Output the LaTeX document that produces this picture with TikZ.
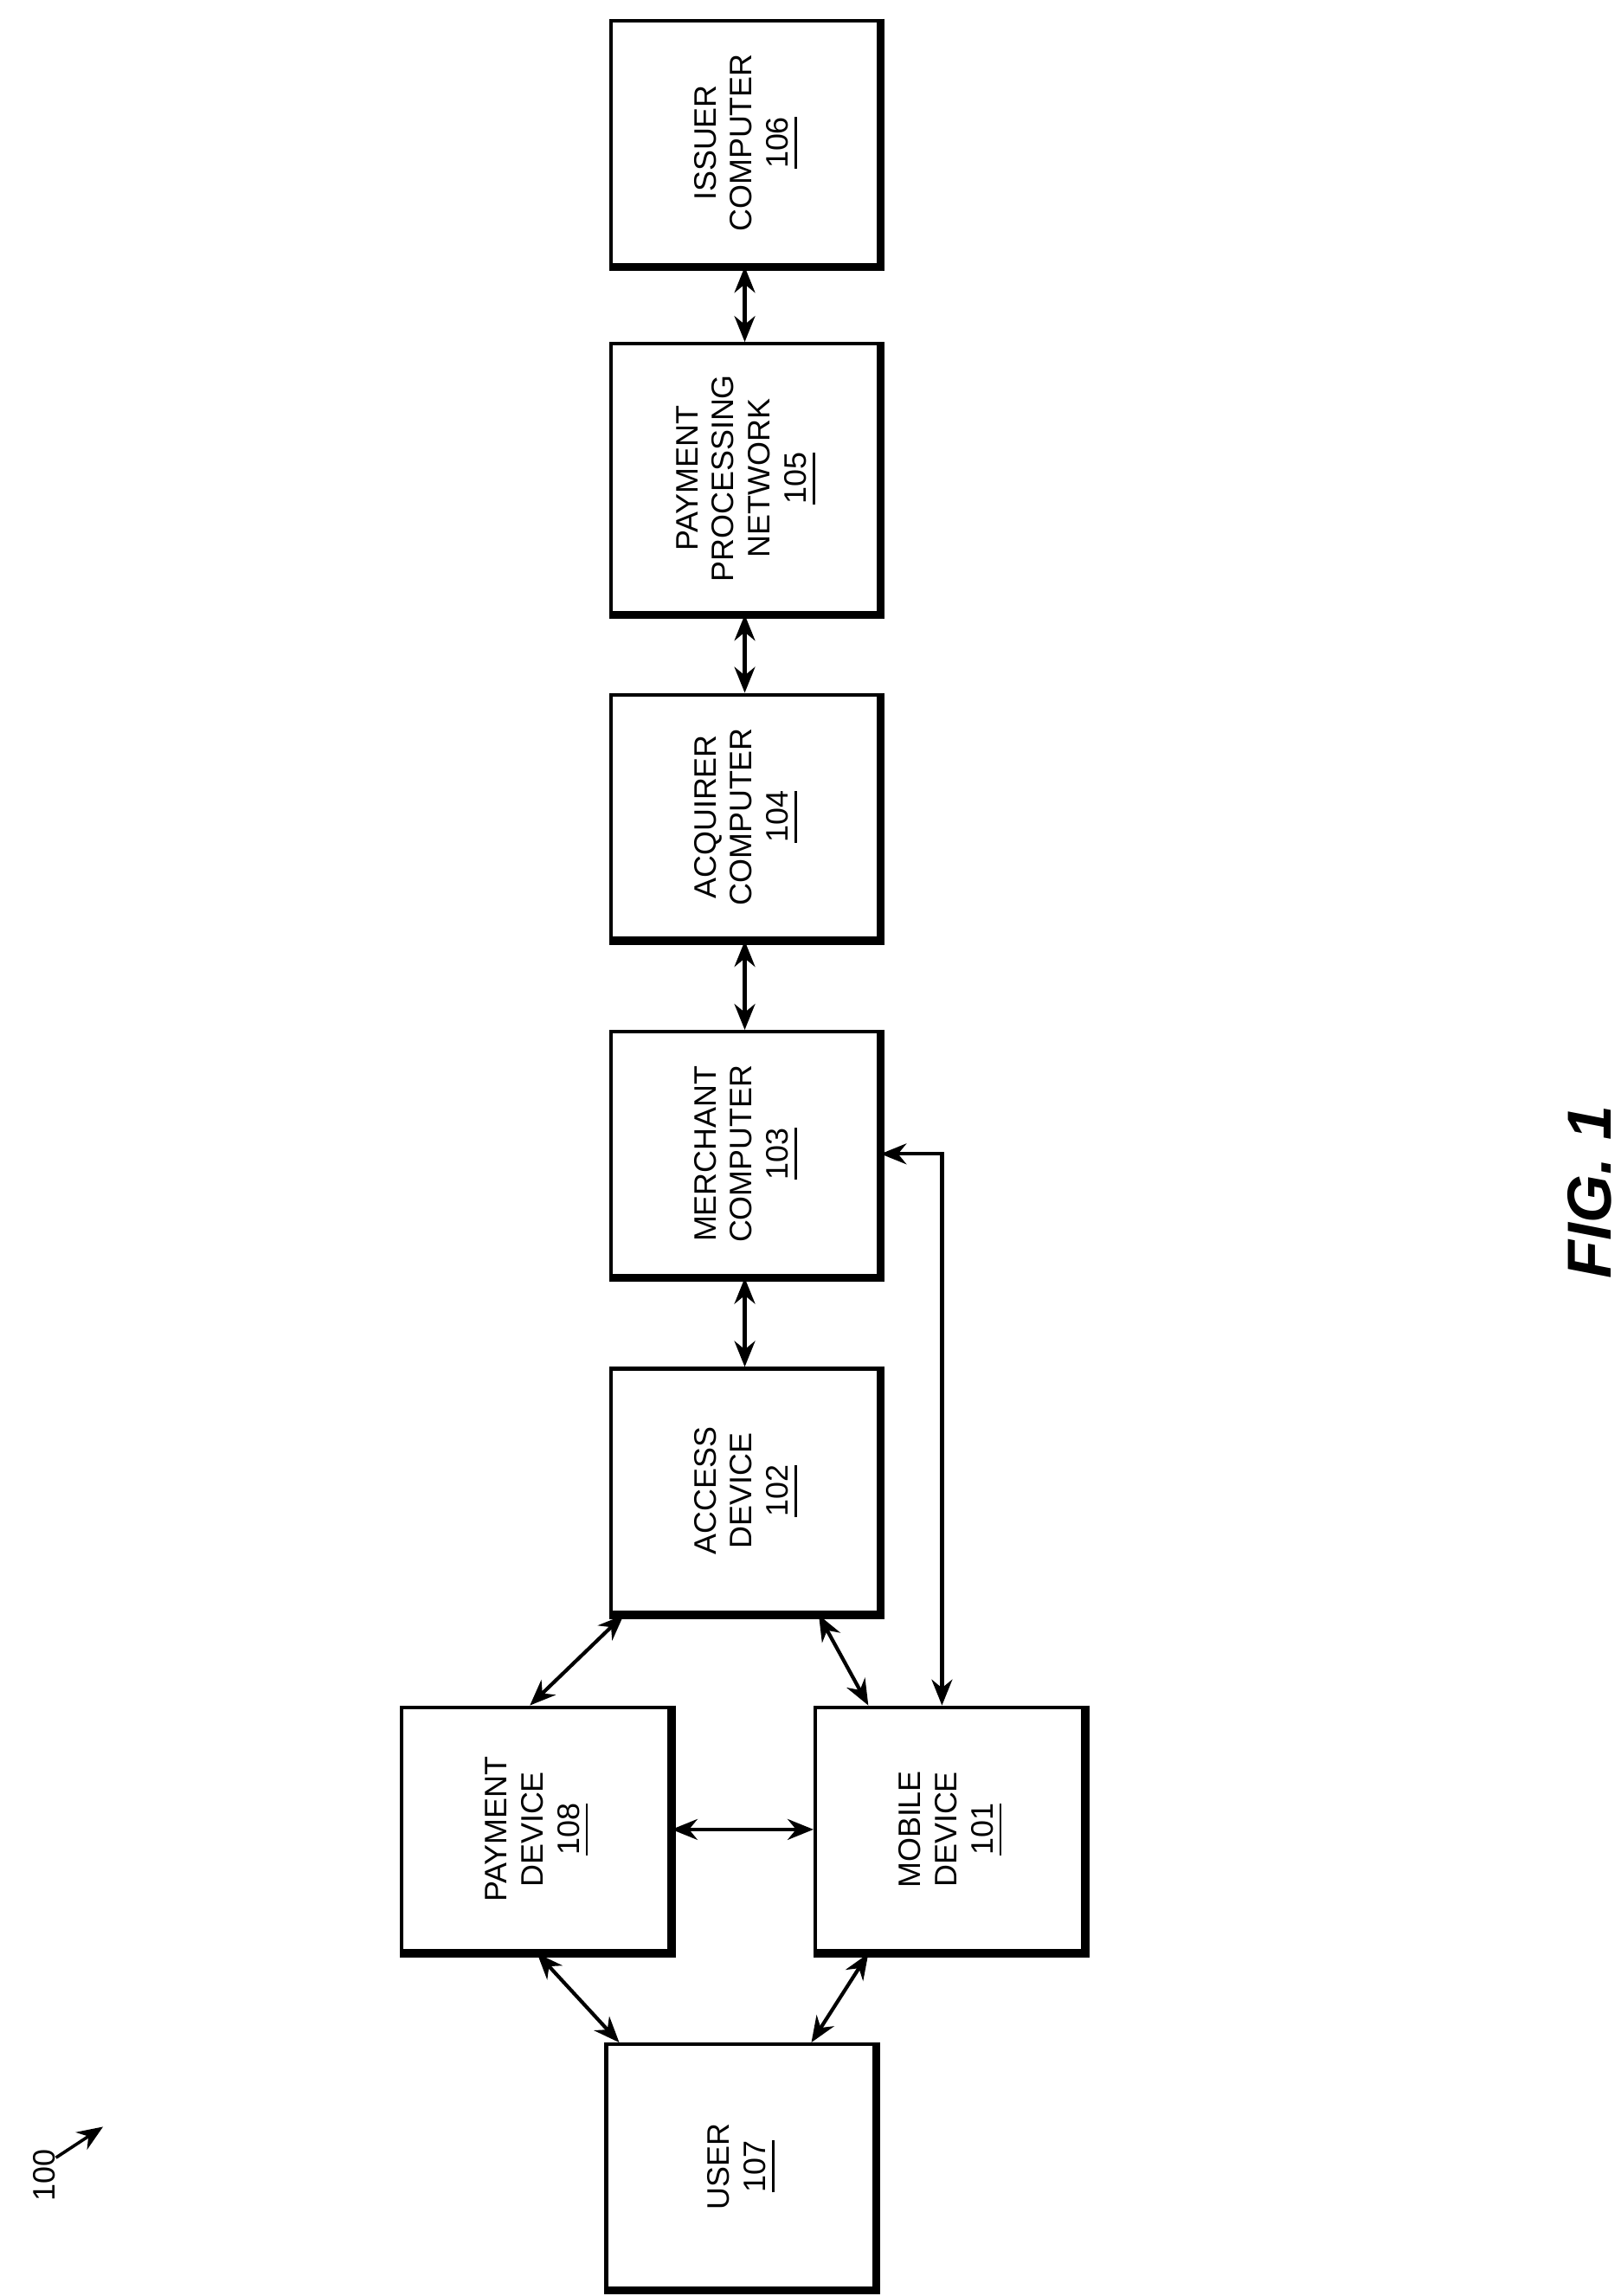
\documentclass[tikz,border=0pt]{standalone}
\usepackage{fontspec}
\setmainfont{Liberation Sans}
\usetikzlibrary{arrows.meta}
\tikzset{
  blk/.style={draw, line width=0.7pt, minimum width=1.82cm, minimum height=1.66cm, inner sep=0pt, font=\fontsize{6}{7}\selectfont},
  link/.style={{Stealth[length=5pt,width=4pt]}-{Stealth[length=5pt,width=4pt]}, line width=0.7pt}
}
\newcommand{\boxtext}[1]{\rotatebox{90}{\begin{tabular}{c}#1\end{tabular}}}
\begin{document}
\begin{tikzpicture}[x=0.01cm,y=-0.01cm]
\useasboundingbox (0,0) rectangle (1101,1560);
\node[blk] (issuer) at (506,97) {\boxtext{ISSUER\\COMPUTER\\\underline{106}}};
\node[blk] (ppn) at (506,325) {\boxtext{PAYMENT\\PROCESSING\\NETWORK\\\underline{105}}};
\node[blk] (acquirer) at (506,555) {\boxtext{ACQUIRER\\COMPUTER\\\underline{104}}};
\node[blk] (merchant) at (506,784) {\boxtext{MERCHANT\\COMPUTER\\\underline{103}}};
\node[blk] (access) at (506,1013) {\boxtext{ACCESS\\DEVICE\\\underline{102}}};
\node[blk] (payment) at (364,1243) {\boxtext{PAYMENT\\DEVICE\\\underline{108}}};
\node[blk] (mobile) at (645,1243) {\boxtext{MOBILE\\DEVICE\\\underline{101}}};
\node[blk] (user) at (503,1472) {\boxtext{USER\\\underline{107}}};
% heavy right and bottom edges
\foreach \n in {issuer,ppn,acquirer,merchant,access,payment,mobile,user}
  \draw[line width=1.6pt] (\n.north east) -- (\n.south east) -- (\n.south west);
% connectors
\draw[link] (issuer) -- (ppn);
\draw[link] (ppn) -- (acquirer);
\draw[link] (acquirer) -- (merchant);
\draw[link] (merchant) -- (access);
\draw[link] ([xshift=0.1cm]access.south west) -- ([xshift=-0.04cm]payment.north);
\draw[link] ([xshift=-0.42cm]access.south east) -- ([xshift=-0.55cm]mobile.north);
\draw[link] (merchant.east) -| ([xshift=-0.05cm]mobile.north);
\draw[link] (payment) -- (mobile);
\draw[link] ([xshift=0.01cm]payment.south) -- ([xshift=0.1cm]user.north west);
\draw[link] ([xshift=-0.55cm]mobile.south) -- ([xshift=-0.44cm]user.north east);
% reference numeral
\node[rotate=90, font=\fontsize{6}{7}\selectfont] (ref) at (30,1478) {100};
\coordinate (refend) at (70,1445);
\draw[-{Stealth[length=5pt,width=4pt]}, line width=0.6pt] (38,1466) -- (refend);
\node[rotate=90, font=\bfseries\itshape\fontsize{12}{14}\selectfont] (fig) at (1080,810) {FIG. 1};
\end{tikzpicture}
\end{document}
